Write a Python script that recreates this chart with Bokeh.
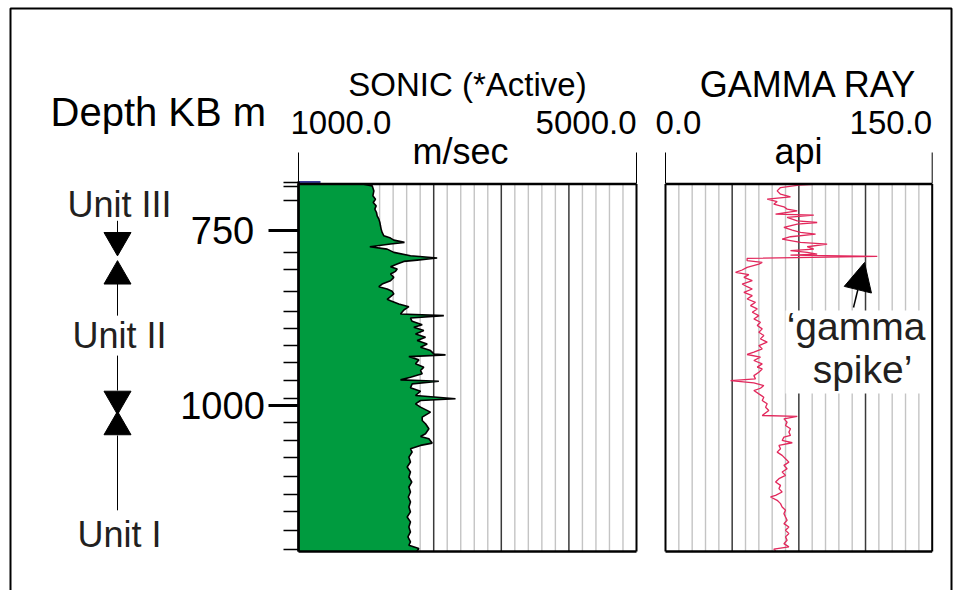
import numpy as np
from bokeh.plotting import figure
from bokeh.models import Range1d, LinearAxis, FixedTicker, Arrow, NormalHead
from bokeh.embed import file_html
from bokeh.resources import INLINE
from bokeh.core.properties import value

SONIC_DEPTH_M = [683, 685.7, 692.9, 700, 704.8, 709.5, 714.3, 719, 723.8, 728.6, 733.3, 738.1,
                 742.8, 747.6, 752.4, 757.1, 760.4, 763.3, 766.6, 769, 772.8, 776.2, 780.9, 785.7,
                 789, 791.9, 793.8, 797.6, 801.4, 804.7, 808, 811.9, 816.6, 821.4, 826.2, 830,
                 833.3, 836.6, 840.4, 844.2, 848, 850, 854.8, 858.6, 863.3, 869, 871.4, 874.8,
                 879.5, 884.3, 888, 892.8, 897.6, 902.4, 907.1, 911.9, 916.6, 921.4, 926.2, 927.6,
                 930, 934.7, 940.4, 945.2, 950, 954.7, 959.5, 963.3, 965.2, 969, 974.7, 979.5,
                 985.7, 990.4, 992.8, 997.6, 1002.3, 1009.5, 1016.6, 1021.4, 1026.2, 1033.3,
                 1040.4, 1044.3, 1047.6, 1053.8, 1057.1, 1061.9, 1066.6, 1073.8, 1080.9, 1088,
                 1095.2, 1102.3, 1109.5, 1116.6, 1123.8, 1131, 1138, 1145.2, 1152.3, 1159.5,
                 1166.6, 1173.8, 1180.9, 1188, 1195.2, 1200, 1204.7, 1209]
SONIC_VELOCITY_MS = [1757, 1872, 1892, 1880, 1911, 1884, 1919, 1903, 1923, 1931, 1951, 1963,
                     1970, 1978, 1990, 2010, 2089, 2128, 2254, 2089, 1844, 2049, 2128, 2325,
                     2641, 2404, 2247, 2168, 2089, 2168, 2148, 2089, 2128, 2089, 1990, 1951,
                     2049, 2108, 2128, 2089, 2049, 2089, 2187, 2306, 2247, 2207, 2720, 2325,
                     2345, 2464, 2365, 2483, 2385, 2503, 2404, 2523, 2444, 2562, 2602, 2740,
                     2306, 2424, 2385, 2483, 2444, 2464, 2325, 2207, 2661, 2345, 2325, 2444,
                     2385, 2858, 2444, 2385, 2444, 2562, 2464, 2464, 2503, 2543,
                     2503, 2444, 2543, 2582, 2444, 2325, 2345, 2306, 2325, 2286,
                     2325, 2306, 2340, 2306, 2325, 2300, 2325, 2306, 2325, 2286,
                     2325, 2306, 2325, 2295, 2325, 2306, 2424, 2400]

GAMMA_DEPTH_M = [683, 684.5, 688.1, 692.9, 697.6, 701.4, 704.8, 708.1, 711.9, 715.7, 719.0, 721.4,
                 726.2, 727.6, 730.9, 735.7, 738.1, 740.5, 745.2, 749.0, 752.4, 754.7, 758.5,
                 761.9, 766.6, 769.0, 772.8, 776.2, 778.5, 780.9, 783.3, 784.7, 786.6, 789.5,
                 792.8, 795.2, 797.6, 802.3, 806.1, 809.5, 812.8, 816.6, 821.4, 826.2, 830.0,
                 833.3, 838.0, 842.8, 847.6, 852.3, 857.1, 861.8, 866.6, 871.4, 876.1, 880.9,
                 885.6, 890.4, 895.2, 899.9, 904.7, 909.4, 914.2, 919.0, 923.7, 927.0, 930.8,
                 935.6, 940.4, 945.1, 947.7, 952.4, 957.2, 961.9, 964.3, 967.7, 971.5, 975.3,
                 978.6, 983.4, 988.1, 992.9, 997.6, 1002.4, 1007.2, 1014.3, 1015.7, 1019.1,
                 1023.8, 1028.6, 1033.3, 1038.1, 1042.9, 1045.2, 1050.0, 1053.3, 1057.1, 1061.9,
                 1066.7, 1071.4, 1076.2, 1081.0, 1085.7, 1090.5, 1095.2, 1100.0, 1104.7, 1109.5,
                 1114.3, 1119.0, 1123.8, 1128.5, 1130.9, 1135.7, 1140.4, 1145.2, 1150.0, 1154.7,
                 1159.5, 1164.2, 1169.0, 1173.8, 1178.5, 1183.3, 1188.0, 1192.8, 1197.6, 1202.3,
                 1205.6, 1208]
GAMMA_RAY_API = [86.3, 75.0, 64.7, 62.8, 64.7, 70.3, 57.2, 62.8, 60.9, 66.6, 68.4, 74.1,
                 61.9, 83.4, 68.4, 74.1, 85.3, 74.1, 66.6, 71.3, 75.9, 84.4, 70.3,
                 65.6, 75.9, 90.9, 79.7, 83.4, 70.3, 79.7, 85.3, 70.3, 119.1, 45.9,
                 45.9, 54.4, 52.5, 45.9, 43.1, 39.4, 46.9, 44.1, 48.8, 43.1, 45.9,
                 48.8, 44.1, 48.8, 45.9, 50.6, 47.8, 51.6, 48.8, 52.5, 49.7, 53.4,
                 51.6, 54.4, 52.5, 55.3, 53.4, 57.2, 52.5, 54.4, 49.7, 45.9, 53.4,
                 49.7, 54.4, 51.6, 54.4, 52.5, 49.7, 50.6, 36.6, 49.7, 55.3, 53.4,
                 49.7, 52.5, 55.3, 54.4, 57.2, 56.3, 58.1, 54.4, 74.1, 66.6,
                 68.4, 67.5, 70.3, 69.4, 70.3, 66.6, 65.6, 71.3, 63.8, 64.7,
                 62.8, 65.6, 67.5, 69.4, 66.6, 68.4, 65.6, 67.5, 63.8, 61.9,
                 64.7, 63.8, 65.6, 61.9, 59.1, 62.8, 64.7, 65.6, 67.5, 66.6,
                 67.5, 68.4, 66.6, 69.4, 67.5, 69.4, 67.5, 68.4, 66.6, 69.4,
                 60.9, 62.0]

LOG_TOP_M, LOG_BASE_M = 683, 1209
DEPTH_MAJOR_TICKS = [750, 1000]
DEPTH_MAJOR_LABELS = ["750", "1000"]
DEPTH_MINOR_TICKS = [681, 686, 707, 781, 806, 837, 865, 890, 914, 939, 964, 990,
                     1025, 1050, 1075, 1101, 1128, 1152, 1179, 1206]

SONIC_SCALE = [1000.0, 5000.0]
SONIC_SCALE_LABELS = ["1000.0", "5000.0"]
GAMMA_SCALE = [0.0, 150.0]
GAMMA_SCALE_LABELS = ["0.0", "150.0"]
SONIC_DIVISIONS, GAMMA_DIVISIONS, MAJOR_EVERY = 25, 20, 5

UNIT_NAMES = ["Unit III", "Unit II", "Unit I"]
UNIT_NAME_DEPTH_M = [713, 900.4, 1184.6]
ARROW_DOWN_DEPTH_M = [763.6, 990.7]
ARROW_UP_DEPTH_M = [815.0, 1030.7]
ARROW_STEM_FROM_M = [735.7, 825.7, 928.6, 1042.9]
ARROW_STEM_TO_M = [752.9, 871.4, 978.6, 1150.0]

# ---------------- page layout (pixels) ----------------
W, H = 960, 590
SON_L, SON_R = 298.0, 636.0
GAM_L, GAM_R = 665.0, 931.7
Y_750, Y_1000 = 230.3, 405.0
FONT = value("Liberation Sans")

spx = (SONIC_SCALE[1] - SONIC_SCALE[0]) / (SON_R - SON_L)
gpx = (GAMMA_SCALE[1] - GAMMA_SCALE[0]) / (GAM_R - GAM_L)
dpx = (DEPTH_MAJOR_TICKS[1] - DEPTH_MAJOR_TICKS[0]) / (Y_1000 - Y_750)

p = figure(width=W, height=H, x_range=Range1d(0, W), y_range=Range1d(H, 0),
           min_border=0, toolbar_location=None, output_backend="svg",
           x_axis_location=None, y_axis_location=None, outline_line_color=None,
           background_fill_color="white", border_fill_color="white")
p.xgrid.visible = False
p.ygrid.visible = False

p.extra_x_ranges = {
    "sonic": Range1d(SONIC_SCALE[0] - SON_L * spx, SONIC_SCALE[0] + (W - SON_L) * spx),
    "gamma": Range1d(GAMMA_SCALE[0] - GAM_L * gpx, GAMMA_SCALE[0] + (W - GAM_L) * gpx),
}
p.extra_y_ranges = {
    "depth": Range1d(DEPTH_MAJOR_TICKS[0] + (H - Y_750) * dpx, DEPTH_MAJOR_TICKS[0] - Y_750 * dpx),
}

# ---------------- track grids ----------------
son_grid = np.linspace(SONIC_SCALE[0], SONIC_SCALE[1], SONIC_DIVISIONS + 1)[1:-1]
gam_grid = np.linspace(GAMMA_SCALE[0], GAMMA_SCALE[1], GAMMA_DIVISIONS + 1)[1:-1]
son_major = son_grid[MAJOR_EVERY - 1::MAJOR_EVERY]
gam_major = gam_grid[MAJOR_EVERY - 1::MAJOR_EVERY]
son_minor = np.setdiff1d(son_grid, son_major)
gam_minor = np.setdiff1d(gam_grid, gam_major)

for vals, rng in ((son_minor, "sonic"), (gam_minor, "gamma")):
    p.segment(x0=vals, x1=vals, y0=LOG_TOP_M, y1=LOG_BASE_M, line_color="#c4c4c4",
              line_width=1.4, x_range_name=rng, y_range_name="depth")
for vals, rng in ((son_major, "sonic"), (gam_major, "gamma")):
    p.segment(x0=vals, x1=vals, y0=LOG_TOP_M, y1=LOG_BASE_M, line_color="#3a3a3a",
              line_width=1.5, x_range_name=rng, y_range_name="depth")

# ---------------- sonic log ----------------
p.harea(y=SONIC_DEPTH_M, x1=SONIC_SCALE[0], x2=SONIC_VELOCITY_MS, fill_color="#009b3f",
        x_range_name="sonic", y_range_name="depth")
p.line(x=SONIC_VELOCITY_MS, y=SONIC_DEPTH_M, line_color="black", line_width=1.6,
       x_range_name="sonic", y_range_name="depth")
p.segment(x0=298, x1=320, y0=181.5, y1=181.5, line_color="#3b3b9a", line_width=2)

# ---------------- gamma log ----------------
p.line(x=GAMMA_RAY_API, y=GAMMA_DEPTH_M, line_color="#e2285c", line_width=1.3,
       x_range_name="gamma", y_range_name="depth")

# 'gamma spike' callout
p.quad(left=785, right=930, top=310, bottom=393, fill_color="white", line_color=None)
p.text(x=[855.5, 862], y=[326, 369], text=["\u2018gamma", "spike\u2019"], text_font=FONT,
       text_font_size="39px", text_align="center", text_baseline="middle",
       text_color="#231f20")
p.add_layout(Arrow(end=NormalHead(size=28, fill_color="black", line_color="black"),
                   x_start=853, y_start=307, x_end=864, y_end=262, line_width=1.5,
                   line_color="black"))

# ---------------- track frames ----------------
for lo, hi, rng in ((SONIC_SCALE[0], SONIC_SCALE[1], "sonic"), (GAMMA_SCALE[0], GAMMA_SCALE[1], "gamma")):
    p.segment(x0=[lo, lo], x1=[hi, hi], y0=[LOG_TOP_M, LOG_BASE_M], y1=[LOG_TOP_M, LOG_BASE_M],
              line_color="black", line_width=2.5, x_range_name=rng, y_range_name="depth")
    p.segment(x0=[lo, hi], x1=[lo, hi], y0=LOG_TOP_M, y1=LOG_BASE_M, line_color="black",
              line_width=2, x_range_name=rng, y_range_name="depth")
    p.segment(x0=[lo, hi], x1=[lo, hi], y0=152, y1=183, line_color="black", line_width=1,
              x_range_name=rng)

# outer border
p.line(x=[10, 10, 951, 951], y=[600, 8, 8, 600], line_color="black", line_width=2)

# ---------------- depth axis ----------------
depth_axis = LinearAxis(y_range_name="depth", fixed_location=SON_L,
                        ticker=FixedTicker(ticks=DEPTH_MAJOR_TICKS, minor_ticks=DEPTH_MINOR_TICKS),
                        major_tick_out=30, major_tick_in=0, minor_tick_out=15, minor_tick_in=0,
                        major_tick_line_width=3, minor_tick_line_width=1.5,
                        axis_line_width=2.5, bounds=(680, LOG_BASE_M),
                        major_label_overrides={t: "" for t in DEPTH_MAJOR_TICKS})
p.add_layout(depth_axis, "left")
p.text(x=222, y=DEPTH_MAJOR_TICKS, text=DEPTH_MAJOR_LABELS, text_font=FONT, text_font_size="38px",
       text_align="center", text_baseline="middle", y_range_name="depth", text_color="black")

# ---------------- unit annotations ----------------
p.text(x=119, y=UNIT_NAME_DEPTH_M, text=UNIT_NAMES, text_font=FONT, text_font_size="36px",
       text_align="center", text_baseline="middle", y_range_name="depth", text_color="#231f20")
p.segment(x0=117, x1=117, y0=ARROW_STEM_FROM_M, y1=ARROW_STEM_TO_M, line_color="black",
          line_width=1, y_range_name="depth")
p.scatter(x=117, y=ARROW_DOWN_DEPTH_M, marker="inverted_triangle", size=27, fill_color="black",
          line_color="black", y_range_name="depth")
p.scatter(x=117, y=ARROW_UP_DEPTH_M, marker="triangle", size=27, fill_color="black",
          line_color="black", y_range_name="depth")

# ---------------- headers ----------------
p.text(x=50, y=111, text=["Depth KB m"], text_font=FONT, text_font_size="40px",
       text_align="left", text_baseline="middle", text_color="black")
p.text(x=467, y=83.5, text=["SONIC (*Active)"], text_font=FONT,
       text_font_size="33px", text_align="center", text_baseline="middle", text_color="black")
p.text(x=808, y=83.5, text=["GAMMA RAY"], text_font=FONT,
       text_font_size="36px", text_align="center", text_baseline="middle", text_color="black")
p.text(x=SONIC_SCALE, y=122, text=SONIC_SCALE_LABELS, text_font=FONT, text_font_size="33px",
       text_align=["left", "right"], text_baseline="middle", x_range_name="sonic",
       text_color="black", x_offset=[-8, 0])
p.text(x=GAMMA_SCALE, y=122, text=GAMMA_SCALE_LABELS, text_font=FONT, text_font_size="33px",
       text_align=["left", "right"], text_baseline="middle", x_range_name="gamma",
       text_color="black", x_offset=[-10, 0])
p.text(x=[460, 798], y=[151, 151], text=["m/sec", "api"], text_font=FONT, text_font_size="36px",
       text_align="center", text_baseline="middle", text_color="black")

open("out.html", "w").write(file_html(p, INLINE))
